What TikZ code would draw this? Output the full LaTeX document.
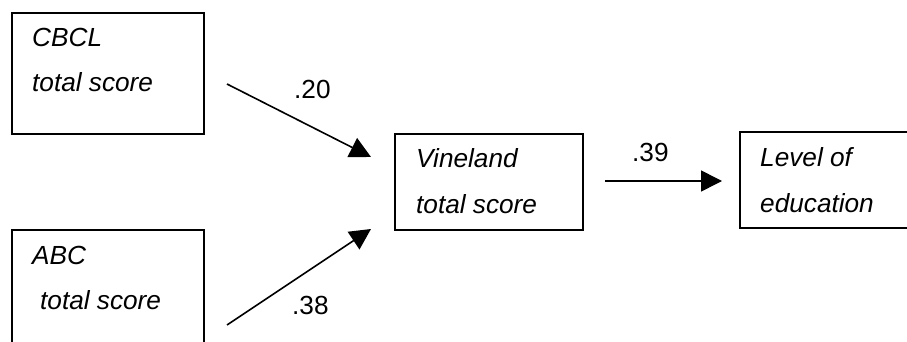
\documentclass[tikz,border=0pt]{standalone}
\usepackage{fontspec}
\setmainfont{Liberation Sans}
\usetikzlibrary{arrows.meta}
\begin{document}
\begin{tikzpicture}[x=1pt,y=-1pt,
  box/.style={draw, line width=1.6pt, inner sep=0pt, anchor=north west},
  lbl/.style={inner sep=0pt, anchor=base west, font=\fontsize{26.2}{30}\selectfont\itshape},
  num/.style={inner sep=0pt, anchor=base west, font=\fontsize{26.2}{30}\selectfont},
  arr/.style={line width=1.6pt, -{Triangle[length=21pt,width=21pt]}}]
\clip (0,0) rectangle (907,342);
\fill[white] (0,0) rectangle (907,342);
% boxes
\node[box, minimum width=192pt, minimum height=121pt] (cbcl) at (11,12.5) {};
\node[box, minimum width=192pt, minimum height=140pt] (abc) at (11,229) {};
\node[box, minimum width=188pt, minimum height=96pt] (vine) at (394,133) {};
\node[box, minimum width=200pt, minimum height=96pt] (lev) at (739,131) {};
% texts
\node[lbl] (t1) at (32,47) {CBCL};
\node[lbl] (t2) at (32,92) {total score};
\node[lbl] (t3) at (32,264) {ABC};
\node[lbl] (t4) at (40,309) {total score};
\node[lbl] (t5) at (416,167) {Vineland};
\node[lbl] (t6) at (416,213) {total score};
\node[lbl] (t7) at (760,166) {Level of};
\node[lbl] (t8) at (760,212) {education};
% connectors
\coordinate (a1s) at (227,84);
\coordinate (a1e) at (371,157);
\coordinate (a2s) at (227,325);
\coordinate (a2e) at (371,229);
\coordinate (a3s) at (605,181);
\coordinate (a3e) at (722,181);
\draw[arr] (a1s) -- (a1e);
\draw[arr] (a2s) -- (a2e);
\draw[arr] (a3s) -- (a3e);
% labels
\node[num] (n1) at (294,99) {.20};
\node[num] (n2) at (292,314) {.38};
\node[num] (n3) at (632,161) {.39};
\end{tikzpicture}
\end{document}
